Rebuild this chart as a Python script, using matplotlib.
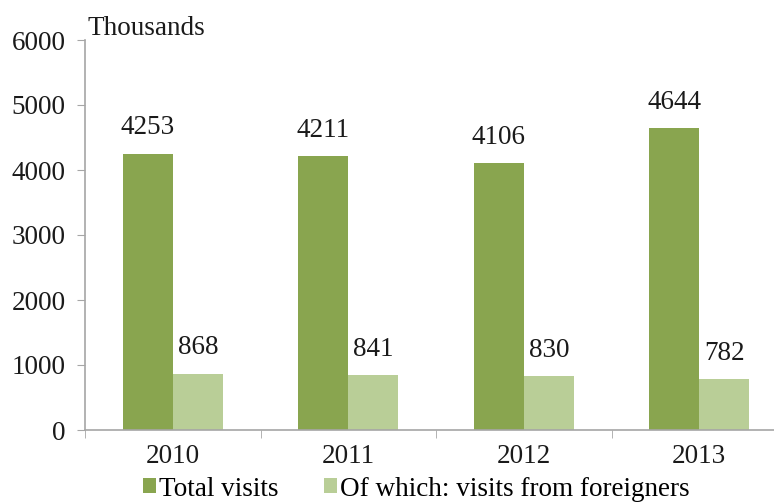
import matplotlib
matplotlib.use("Agg")
import matplotlib.pyplot as plt
import numpy as np

years = ["2010", "2011", "2012", "2013"]
total_visits = [4253, 4211, 4106, 4644]
foreign_visits = [868, 841, 830, 782]
series_names = ["Total visits", "Of which: visits from foreigners"]
y_ticks = [0, 1000, 2000, 3000, 4000, 5000, 6000]

dark = "#89A54F"
light = "#B9CE97"
axis_col = "#A6A6A6"
txt = "#1a1a1a"

plt.rcParams['font.family'] = ['Liberation Serif', 'DejaVu Serif']
fs = 19.5

fig = plt.figure(figsize=(7.74, 5.03), dpi=100)
ax = fig.add_axes([85/774, 73/503, 702/774, 390/503])

x = np.arange(len(years))
w = 0.285
b1 = ax.bar(x - w/2, total_visits, w, color=dark, label=series_names[0])
b2 = ax.bar(x + w/2, foreign_visits, w, color=light, label=series_names[1])

for bars, vals in ((b1, total_visits), (b2, foreign_visits)):
    for rect, v in zip(bars, vals):
        ax.annotate(f"{v}", (rect.get_x() + rect.get_width()/2, v), xytext=(0, 9.5),
                    textcoords="offset points", ha="center", va="bottom", fontsize=fs, color=txt)

ax.set_xlim(-0.5, len(years) - 0.5)
ax.set_ylim(0, 6000)
ax.set_yticks(y_ticks)
ax.set_yticklabels([str(t) for t in y_ticks], fontsize=fs, color=txt)
ax.set_xticks(x)
ax.set_xticklabels(years, fontsize=fs, color=txt)
ax.tick_params(axis="x", length=0, pad=10)
ax.set_xticks(np.arange(len(years) + 1) - 0.5, minor=True)
ax.tick_params(axis="x", which="minor", length=6, color=axis_col, direction="out")
ax.tick_params(axis="y", length=6, color=axis_col, direction="out", pad=8)

for s in ["top", "right"]:
    ax.spines[s].set_visible(False)
for s in ["left", "bottom"]:
    ax.spines[s].set_color(axis_col)
    ax.spines[s].set_linewidth(1.2)

fig.text(87/774, 1 - 35/503, "Thousands", fontsize=fs, color=txt, ha="left", va="baseline")

leg = fig.legend(handles=[b1, b2], loc="center left", bbox_to_anchor=(143/774, 1 - 489/503), ncol=2,
                 frameon=False, fontsize=fs, handlelength=0.48, handleheight=0.48,
                 handletextpad=0.1, columnspacing=1.7, borderpad=0, borderaxespad=0)

fig.savefig("out.png", dpi=100)
